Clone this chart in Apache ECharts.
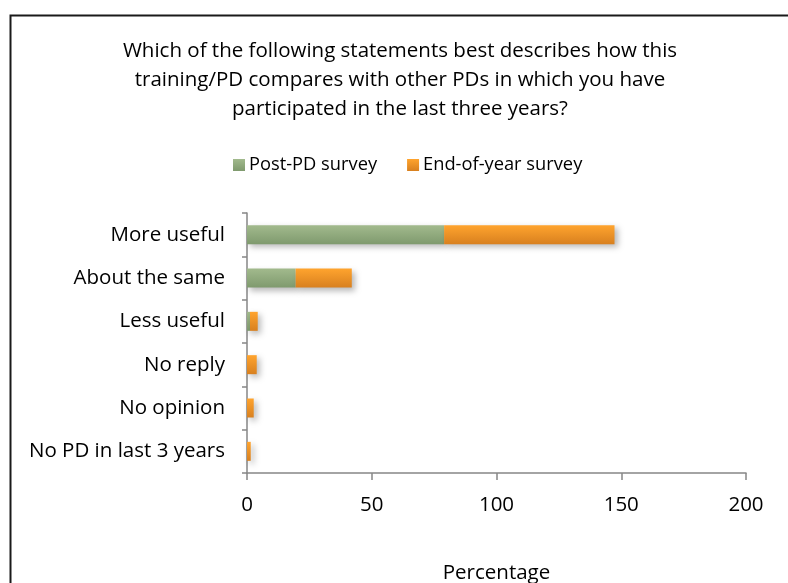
<!DOCTYPE html>
<html>
<head>
<meta charset="utf-8">
<script src="https://cdn.jsdelivr.net/npm/echarts@6/dist/echarts.min.js"></script>
<style>
  html, body { margin: 0; padding: 0; background: #fff; }
  #chart { width: 788px; height: 583px; }
</style>
</head>
<body>
<div id="chart"></div>
<script>
// Survey answers, top to bottom
const categories = ['More useful', 'About the same', 'Less useful', 'No reply', 'No opinion', 'No PD in last 3 years'];
const postPdSurvey = [79, 19.5, 1.2, 0, 0, 0];
const endOfYearSurvey = [68.3, 22.5, 3.1, 3.9, 2.7, 1.5];
const xTicks = { min: 0, max: 200, interval: 50 };

const FONT = 'Open Sans';
const FS = 20.5;

function vGrad(top, bottom) {
  return new echarts.graphic.LinearGradient(0, 0, 0, 1, [
    { offset: 0, color: top },
    { offset: 1, color: bottom }
  ]);
}

const barShadow = {
  shadowBlur: 6,
  shadowColor: 'rgba(0,0,0,0.28)',
  shadowOffsetX: 3,
  shadowOffsetY: 3
};

const chart = echarts.init(document.getElementById('chart'), null, { renderer: 'canvas' });

chart.setOption({
  animation: false,
  backgroundColor: '#fff',
  textStyle: { fontFamily: FONT },
  graphic: [{
    type: 'rect',
    left: 8, top: 13,
    shape: { width: 800, height: 600 },
    style: { fill: 'none', stroke: '#1a1a1a', lineWidth: 2 },
    silent: true
  }],
  title: {
    text: 'Which of the following statements best describes how this\ntraining/PD compares with other PDs in which you have\nparticipated in the last three years?',
    left: 395,
    top: 32,
    textAlign: 'center',
    textStyle: {
      fontFamily: FONT,
      fontSize: FS,
      fontWeight: 'normal',
      color: '#000',
      lineHeight: 29,
      align: 'center'
    }
  },
  legend: {
    top: 151,
    left: 228,
    itemWidth: 12,
    itemHeight: 12,
    itemGap: 30,
    icon: 'rect',
    textStyle: { fontFamily: FONT, fontSize: 18.3, color: '#000', padding: [0, 0, 0, -1] },
    data: ['Post-PD survey', 'End-of-year survey']
  },
  grid: { left: 247, right: 42, top: 213, bottom: 110, containLabel: false, outerBoundsMode: 'none' },
  xAxis: {
    type: 'value',
    min: xTicks.min,
    max: xTicks.max,
    interval: xTicks.interval,
    name: 'Percentage',
    nameLocation: 'middle',
    nameGap: 90,
    nameTextStyle: { fontFamily: FONT, fontSize: FS, color: '#000' },
    axisLine: { show: true, lineStyle: { color: '#868686', width: 1.5 } },
    axisTick: { show: true, length: 7, lineStyle: { color: '#868686', width: 1.5 } },
    axisLabel: { fontFamily: FONT, fontSize: FS, color: '#000', margin: 22 },
    splitLine: { show: false }
  },
  yAxis: {
    type: 'category',
    inverse: true,
    data: categories,
    axisLine: { show: true, lineStyle: { color: '#868686', width: 1.5 } },
    axisTick: { show: true, length: 5, alignWithLabel: false, lineStyle: { color: '#868686', width: 1.5 } },
    axisLabel: { fontFamily: FONT, fontSize: FS, color: '#000', margin: 22 }
  },
  series: [
    {
      name: 'Post-PD survey',
      type: 'bar',
      stack: 'total',
      barWidth: 19,
      data: postPdSurvey,
      itemStyle: Object.assign({ color: vGrad('#a2ba8d', '#7f9a6e') }, barShadow)
    },
    {
      name: 'End-of-year survey',
      type: 'bar',
      stack: 'total',
      barWidth: 19,
      data: endOfYearSurvey,
      itemStyle: Object.assign({ color: vGrad('#ffa42e', '#d8801f') }, barShadow)
    }
  ]
});
</script>
</body>
</html>
